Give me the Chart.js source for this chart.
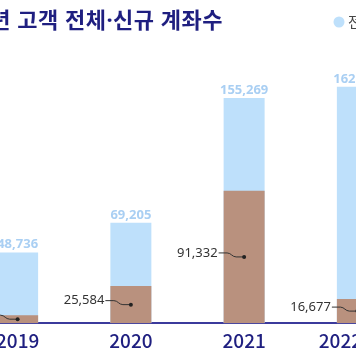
<!DOCTYPE html>
<html>
<head>
<meta charset="utf-8">
<script src="https://cdn.jsdelivr.net/npm/chart.js@4/dist/chart.umd.min.js"></script>
<style>
  html, body { margin: 0; padding: 0; background: #ffffff; overflow: hidden; width: 356px; height: 363px; }
  #wrap { position: absolute; left: -100px; top: 0; width: 514px; height: 363px; }
</style>
</head>
<body>
<div id="wrap"><canvas id="c"></canvas></div>
<script>
const titleText = '최근 4년 고객 전체·신규 계좌수';
const categories = ['2019', '2020', '2021', '2022.5월'];
const seriesNames = ['전체 계좌수', '신규 계좌수'];
const totalAccounts = [48736, 69205, 155269, 162957];
const newAccounts = [5536, 25584, 91332, 16677];

const BLUE = '#bee0fb';
const BROWN = '#b9917e';
const NAVY = '#1f1f80';

const fmt = v => v.toLocaleString('en-US');

const decor = {
  id: 'decor',
  afterDatasetsDraw(chart) {
    const ctx = chart.ctx;
    const mTot = chart.getDatasetMeta(0);
    const mNew = chart.getDatasetMeta(1);
    ctx.save();
    ctx.font = 'bold 13px "Noto Sans", "Noto Sans CJK KR", sans-serif';
    ctx.fillStyle = '#a9cff3';
    ctx.textAlign = 'center';
    ctx.textBaseline = 'alphabetic';
    mTot.data.forEach((bar, i) => {
      ctx.fillText(fmt(totalAccounts[i]), bar.x, bar.y - 4);
    });
    mNew.data.forEach((b, i) => {
      const cx = b.x;
      const dotY = (b.y + b.base) / 2;
      const left = b.x - b.width / 2;
      const textRight = left - 6;
      const ly = dotY - 4;
      ctx.strokeStyle = '#333333';
      ctx.lineWidth = 1;
      ctx.beginPath();
      ctx.moveTo(textRight + 1, ly);
      ctx.lineTo(cx - 17, ly);
      ctx.bezierCurveTo(cx - 13, ly, cx - 12, dotY, cx - 8, dotY);
      ctx.lineTo(cx, dotY);
      ctx.stroke();
      ctx.fillStyle = '#222222';
      ctx.beginPath();
      ctx.arc(cx, dotY, 2, 0, Math.PI * 2);
      ctx.fill();
      ctx.font = '13px "Noto Sans", "Noto Sans CJK KR", sans-serif';
      ctx.fillStyle = '#333333';
      ctx.textAlign = 'right';
      ctx.textBaseline = 'middle';
      ctx.fillText(fmt(newAccounts[i]), textRight, ly);
    });
    ctx.restore();
  },
  afterDraw(chart) {
    const ctx = chart.ctx;
    ctx.save();
    ctx.font = 'bold 22px "Noto Sans", "Noto Sans CJK KR", sans-serif';
    if ('letterSpacing' in ctx) ctx.letterSpacing = '0.5px';
    ctx.fillStyle = NAVY;
    ctx.textAlign = 'right';
    ctx.textBaseline = 'middle';
    ctx.fillText(titleText, 323, 22);
    if ('letterSpacing' in ctx) ctx.letterSpacing = '0px';
    let x = 439;
    ctx.font = '14px "Noto Sans CJK KR", sans-serif';
    ctx.textAlign = 'left';
    chart.data.datasets.forEach(ds => {
      ctx.fillStyle = ds.backgroundColor;
      ctx.beginPath();
      ctx.arc(x, 22, 5.5, 0, Math.PI * 2);
      ctx.fill();
      ctx.fillStyle = '#444444';
      ctx.fillText(ds.label, x + 9, 22);
      x += 9 + ctx.measureText(ds.label).width + 16;
    });
    ctx.restore();
  }
};

new Chart(document.getElementById('c'), {
  type: 'bar',
  data: {
    labels: categories,
    datasets: [
      { label: seriesNames[0], data: totalAccounts, backgroundColor: BLUE, order: 1, grouped: false },
      { label: seriesNames[1], data: newAccounts, backgroundColor: BROWN, order: 0, grouped: false }
    ]
  },
  options: {
    responsive: true,
    maintainAspectRatio: false,
    animation: false,
    layout: { padding: { left: 61, right: 0, top: 62, bottom: 5 } },
    datasets: { bar: { categoryPercentage: 1, barPercentage: 0.362 } },
    plugins: { legend: { display: false }, tooltip: { enabled: false }, title: { display: false } },
    scales: {
      x: {
        grid: { display: false, drawTicks: false },
        border: { display: true, color: '#3b3a9c', width: 2 },
        ticks: { color: NAVY, padding: 6, maxRotation: 0, minRotation: 0, autoSkip: false,
                 font: { family: '"Noto Sans CJK KR", sans-serif', size: 19, weight: '500' } }
      },
      y: { display: false, min: 0, max: 180000 }
    }
  },
  plugins: [decor]
});
</script>
</body>
</html>
